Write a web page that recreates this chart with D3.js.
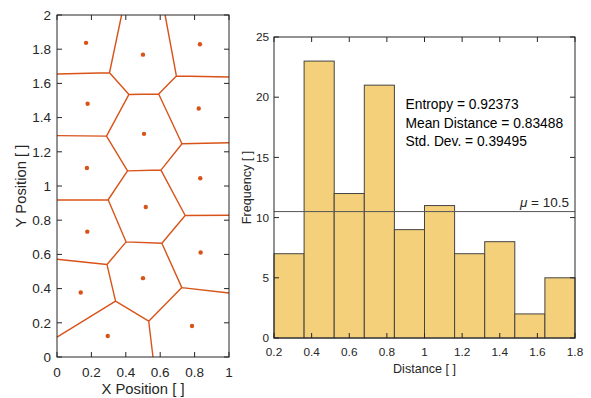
<!DOCTYPE html>
<html><head><meta charset="utf-8">
<script src="https://cdn.jsdelivr.net/npm/d3@7/dist/d3.min.js"></script>
<style>body{margin:0;background:#fff}svg{display:block;font-family:"Liberation Sans",Arial,Helvetica,sans-serif}</style>
</head><body>
<script>
// Voronoi seed points (data coords)
const seedX = [0.169, 0.500, 0.831, 0.178, 0.824, 0.506, 0.174, 0.833, 0.516, 0.176, 0.835, 0.500, 0.138, 0.785, 0.295];
const seedY = [1.837, 1.768, 1.829, 1.481, 1.453, 1.305, 1.105, 1.045, 0.877, 0.733, 0.611, 0.461, 0.377, 0.181, 0.123];
const leftXTicks = [0, 0.2, 0.4, 0.6, 0.8, 1];
const leftYTicks = [0, 0.2, 0.4, 0.6, 0.8, 1, 1.2, 1.4, 1.6, 1.8, 2];
// Histogram
const binEdges = [0.2, 0.36, 0.52, 0.68, 0.84, 1.0, 1.16, 1.32, 1.48, 1.64, 1.8];
const binCounts = [7, 23, 12, 21, 9, 11, 7, 8, 2, 5];
const meanCount = 10.5;
const rightXTicks = [0.2, 0.4, 0.6, 0.8, 1, 1.2, 1.4, 1.6, 1.8];
const rightYTicks = [0, 5, 10, 15, 20, 25];
const statsText = ["Entropy = 0.92373", "Mean Distance = 0.83488", "Std. Dev. = 0.39495"];

const W = 591, H = 398;
const svg = d3.select("body").append("svg").attr("width", W).attr("height", H);
const axisCol = "#262626";
const orange = "#D95319";

function fmt(v){ return String(+v.toFixed(2)); }

// ---------- Left plot ----------
const L = {x0: 57, x1: 229, y0: 15, y1: 357};
const lx = d3.scaleLinear().domain([0, 1]).range([L.x0, L.x1]);
const ly = d3.scaleLinear().domain([0, 2]).range([L.y1, L.y0]);
const gL = svg.append("g");

const pts = seedX.map((x, i) => [x, seedY[i]]);
const delaunay = d3.Delaunay.from(pts);
const vor = delaunay.voronoi([0, 0, 1, 2]);
let pathStr = "";
const ctx = {
  moveTo(x, y){ pathStr += "M" + lx(x) + "," + ly(y); },
  lineTo(x, y){ pathStr += "L" + lx(x) + "," + ly(y); },
  closePath(){ pathStr += "Z"; }
};
vor.render(ctx);
gL.append("path").attr("d", pathStr).attr("fill", "none")
  .attr("stroke", orange).attr("stroke-width", 1.4);
gL.selectAll("circle.seed").data(pts).enter().append("circle")
  .attr("cx", d => lx(d[0])).attr("cy", d => ly(d[1])).attr("r", 2.2)
  .attr("fill", orange);

function frame(g, xs, ys, box, xt, yt) {
  g.append("rect").attr("x", box.x0).attr("y", box.y0)
    .attr("width", box.x1 - box.x0).attr("height", box.y1 - box.y0)
    .attr("fill", "none").attr("stroke", axisCol).attr("stroke-width", 1);
  const tl = 5;
  xt.forEach(t => {
    const x = xs(t);
    g.append("line").attr("x1", x).attr("x2", x).attr("y1", box.y1).attr("y2", box.y1 - tl).attr("stroke", axisCol);
    g.append("line").attr("x1", x).attr("x2", x).attr("y1", box.y0).attr("y2", box.y0 + tl).attr("stroke", axisCol);
  });
  yt.forEach(t => {
    const y = ys(t);
    g.append("line").attr("x1", box.x0).attr("x2", box.x0 + tl).attr("y1", y).attr("y2", y).attr("stroke", axisCol);
    g.append("line").attr("x1", box.x1).attr("x2", box.x1 - tl).attr("y1", y).attr("y2", y).attr("stroke", axisCol);
  });
}

frame(gL, lx, ly, L, leftXTicks, leftYTicks);
gL.selectAll("text.xt").data(leftXTicks).enter().append("text")
  .attr("x", d => lx(d)).attr("y", 377).attr("text-anchor", "middle")
  .attr("font-size", 13.5).attr("fill", axisCol).text(fmt);
gL.selectAll("text.yt").data(leftYTicks).enter().append("text")
  .attr("x", 51).attr("y", d => ly(d) + 4.8).attr("text-anchor", "end")
  .attr("font-size", 13.5).attr("fill", axisCol).text(fmt);
gL.append("text").attr("x", (L.x0 + L.x1) / 2).attr("y", 394).attr("text-anchor", "middle")
  .attr("font-size", 14.8).attr("fill", axisCol).text("X Position [ ]");
gL.append("text").attr("transform", `translate(26,${(L.y0 + L.y1) / 2}) rotate(-90)`)
  .attr("text-anchor", "middle").attr("font-size", 14.8).attr("fill", axisCol).text("Y Position [ ]");

// ---------- Right plot ----------
const R = {x0: 274, x1: 575, y0: 37, y1: 338};
const rx = d3.scaleLinear().domain([0.2, 1.8]).range([R.x0, R.x1]);
const ry = d3.scaleLinear().domain([0, 25]).range([R.y1, R.y0]);
const gR = svg.append("g");
const bins = binCounts.map((c, i) => ({x0: binEdges[i], x1: binEdges[i + 1], c}));
gR.selectAll("rect.bar").data(bins).enter().append("rect")
  .attr("x", d => rx(d.x0)).attr("y", d => ry(d.c))
  .attr("width", d => rx(d.x1) - rx(d.x0)).attr("height", d => ry(0) - ry(d.c))
  .attr("fill", "#F4D07A").attr("stroke", "#444").attr("stroke-width", 1);
gR.append("line").attr("x1", R.x0).attr("x2", R.x1).attr("y1", ry(meanCount)).attr("y2", ry(meanCount))
  .attr("stroke", "#555").attr("stroke-width", 1);
const mu = gR.append("text").attr("x", 569).attr("y", ry(meanCount) - 4.5).attr("text-anchor", "end")
  .attr("font-size", 13.5).attr("fill", axisCol);
mu.append("tspan").attr("font-style", "italic").text("μ");
mu.append("tspan").text(" = 10.5");
frame(gR, rx, ry, R, rightXTicks, rightYTicks);
gR.selectAll("text.xt").data(rightXTicks).enter().append("text")
  .attr("x", d => rx(d)).attr("y", 356).attr("text-anchor", "middle")
  .attr("font-size", 11.8).attr("fill", axisCol).text(fmt);
gR.selectAll("text.yt").data(rightYTicks).enter().append("text")
  .attr("x", 269).attr("y", d => ry(d) + 4.2).attr("text-anchor", "end")
  .attr("font-size", 11.8).attr("fill", axisCol).text(fmt);
gR.append("text").attr("x", (R.x0 + R.x1) / 2).attr("y", 373).attr("text-anchor", "middle")
  .attr("font-size", 12.6).attr("fill", axisCol).text("Distance [ ]");
gR.append("text").attr("transform", `translate(251,${(R.y0 + R.y1) / 2}) rotate(-90)`)
  .attr("text-anchor", "middle").attr("font-size", 12.6).attr("fill", axisCol).text("Frequency [ ]");
gR.selectAll("text.st").data(statsText).enter().append("text")
  .attr("x", 405.5).attr("y", (d, i) => 109 + i * 18.5)
  .attr("font-size", 13.8).attr("fill", "#000").text(d => d);
</script>
</body></html>
